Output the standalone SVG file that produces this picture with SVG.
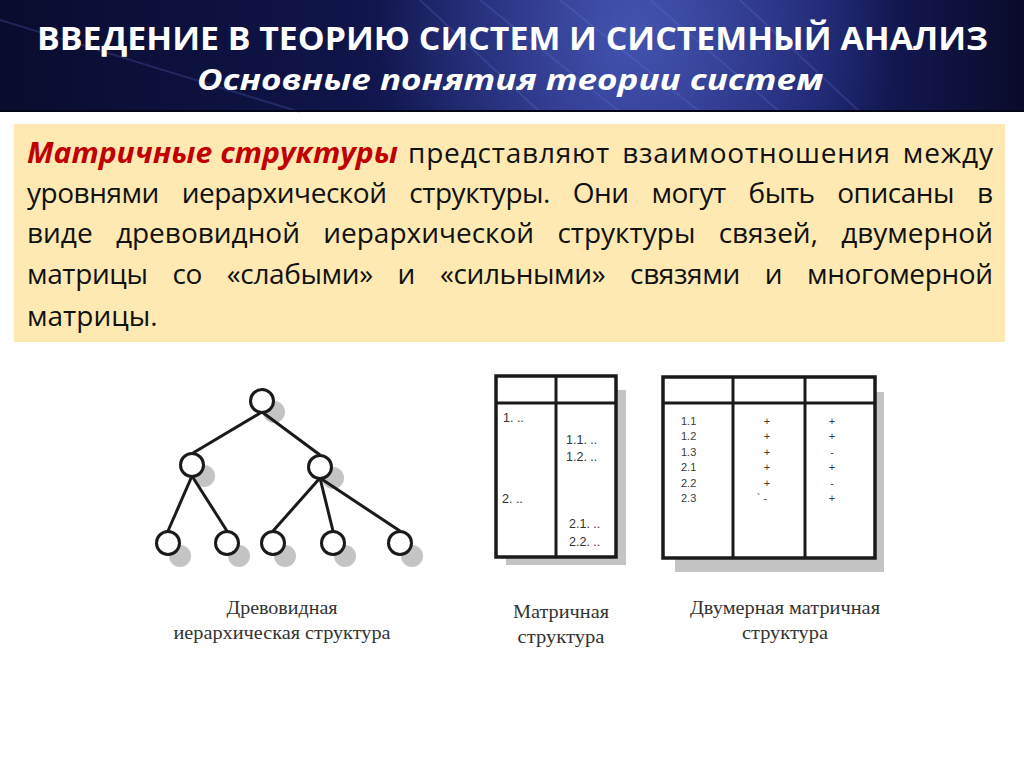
<svg xmlns="http://www.w3.org/2000/svg" width="1024" height="767" viewBox="0 0 1024 767">
<defs>
<linearGradient id="hdr" x1="0" y1="0" x2="1" y2="0">
<stop offset="0" stop-color="#0a0c2e"/>
<stop offset="0.35" stop-color="#10154a"/>
<stop offset="0.6" stop-color="#222c80"/>
<stop offset="0.8" stop-color="#171e66"/>
<stop offset="1" stop-color="#0a0b2a"/>
</linearGradient>
<radialGradient id="glow" cx="640" cy="30" r="260" gradientUnits="userSpaceOnUse">
<stop offset="0" stop-color="#5a6ed0" stop-opacity="0.6"/>
<stop offset="1" stop-color="#5a6ed0" stop-opacity="0"/>
</radialGradient>
<style>
.title{font-family:"Open Sans","Liberation Sans",sans-serif;font-weight:bold;fill:#ffffff}
.body{font-family:"Open Sans","Liberation Sans",sans-serif;font-size:28px;fill:#111111}
.red{font-family:"Open Sans","Liberation Sans",sans-serif;font-size:28px;font-weight:bold;font-style:italic;fill:#c00000}
.cap{font-family:"Liberation Serif","Times New Roman",serif;font-size:19px;fill:#333333}
.mt{font-family:"Liberation Sans",Arial,sans-serif;font-size:12.5px;fill:#333333}
.mt2{font-family:"Liberation Sans",Arial,sans-serif;font-size:11px;fill:#3a3a3a}
.edge{stroke:#1a1a1a;stroke-width:3;fill:none}
.node{fill:#ffffff;stroke:#1a1a1a;stroke-width:3}
.shadow{fill:#c4c4c4}
.frame{fill:#ffffff;stroke:#1a1a1a;stroke-width:3.5}
.div{stroke:#1a1a1a;stroke-width:3}
</style>
</defs>

<g id="header">
<rect x="0" y="0" width="1024" height="112" fill="url(#hdr)"/>
<rect x="0" y="0" width="1024" height="112" fill="url(#glow)"/>
<g stroke="#6a7fe0" stroke-opacity="0.22" stroke-width="2" fill="none">
<line x1="420" y1="0" x2="540" y2="112"/>
<line x1="480" y1="0" x2="620" y2="112"/>
<line x1="560" y1="0" x2="700" y2="112"/>
<line x1="650" y1="0" x2="780" y2="112"/>
<line x1="740" y1="0" x2="860" y2="112"/>
<line x1="0" y1="20" x2="300" y2="112"/>
</g>
<rect x="0" y="110" width="1024" height="2" fill="#050518"/>
<text class="title" x="37" y="50" font-size="33" textLength="951" lengthAdjust="spacingAndGlyphs">ВВЕДЕНИЕ В ТЕОРИЮ СИСТЕМ И СИСТЕМНЫЙ АНАЛИЗ</text>
<text class="title" x="197" y="90" font-size="29" font-style="italic" textLength="626" lengthAdjust="spacingAndGlyphs">Основные понятия теории систем</text>
</g>

<g id="textbox">
<rect x="14" y="124" width="991" height="218" fill="#fee9b2"/>
<text class="red" x="27" y="163" textLength="371" lengthAdjust="spacingAndGlyphs">Матричные структуры</text>
<text class="body" x="408" y="163" word-spacing="4" textLength="585" lengthAdjust="spacing">представляют взаимоотношения между</text>
<text class="body" x="27" y="203" word-spacing="16" textLength="966" lengthAdjust="spacing">уровнями иерархической структуры. Они могут быть описаны в</text>
<text class="body" x="27" y="243" word-spacing="16" textLength="966" lengthAdjust="spacing">виде древовидной иерархической структуры связей, двумерной</text>
<text class="body" x="27" y="284" word-spacing="18" textLength="966" lengthAdjust="spacing">матрицы со «слабыми» и «сильными» связями и многомерной</text>
<text class="body" x="27" y="326">матрицы.</text>
</g>

<g id="tree-shadows">
<circle class="shadow" cx="274" cy="412" r="11"/>
<circle class="shadow" cx="204" cy="476" r="11"/>
<circle class="shadow" cx="333" cy="478" r="11"/>
<circle class="shadow" cx="180" cy="556" r="11"/>
<circle class="shadow" cx="239" cy="556" r="11"/>
<circle class="shadow" cx="285" cy="556" r="11"/>
<circle class="shadow" cx="345" cy="556" r="11"/>
<circle class="shadow" cx="412" cy="556" r="11"/>
</g>

<g id="connectors">
<line class="edge" x1="262" y1="412" x2="193" y2="453"/>
<line class="edge" x1="262" y1="412" x2="320" y2="455"/>
<line class="edge" x1="192" y1="476" x2="168" y2="531"/>
<line class="edge" x1="192" y1="476" x2="227" y2="531"/>
<line class="edge" x1="320" y1="478" x2="273" y2="531"/>
<line class="edge" x1="320" y1="478" x2="333" y2="531"/>
<line class="edge" x1="320" y1="478" x2="400" y2="531"/>
</g>

<g id="node-root"><circle class="node" cx="262" cy="401" r="11.5"/></g>
<g id="node-l"><circle class="node" cx="192" cy="465" r="11.5"/></g>
<g id="node-r"><circle class="node" cx="320" cy="467" r="11.5"/></g>
<g id="node-l1"><circle class="node" cx="168" cy="543" r="11.5"/></g>
<g id="node-l2"><circle class="node" cx="227" cy="543" r="11.5"/></g>
<g id="node-r1"><circle class="node" cx="273" cy="543" r="11.5"/></g>
<g id="node-r2"><circle class="node" cx="333" cy="543" r="11.5"/></g>
<g id="node-r3"><circle class="node" cx="400" cy="543" r="11.5"/></g>

<g id="matrix">
<rect class="shadow" x="617" y="390" width="9" height="173"/>
<rect class="shadow" x="506" y="557" width="120" height="8"/>
<rect class="frame" x="496" y="376" width="120" height="181"/>
<line class="div" x1="556" y1="376" x2="556" y2="557"/>
<line class="div" x1="496" y1="403" x2="616" y2="403"/>
<text class="mt" x="503" y="422">1. ..</text>
<text class="mt" x="566" y="444">1.1. ..</text>
<text class="mt" x="566" y="461">1.2. ..</text>
<text class="mt" x="502" y="503">2. ..</text>
<text class="mt" x="569" y="528">2.1. ..</text>
<text class="mt" x="569" y="546">2.2. ..</text>
</g>

<g id="matrix2d">
<rect class="shadow" x="875" y="392" width="9" height="180"/>
<rect class="shadow" x="675" y="558" width="209" height="14"/>
<rect class="frame" x="663" y="377" width="212" height="181"/>
<line class="div" x1="733" y1="377" x2="733" y2="558"/>
<line class="div" x1="805" y1="377" x2="805" y2="558"/>
<line class="div" x1="663" y1="403" x2="875" y2="403"/>
<g class="mt2">
<text x="681" y="425">1.1</text>
<text x="681" y="440">1.2</text>
<text x="681" y="456">1.3</text>
<text x="681" y="471">2.1</text>
<text x="681" y="487">2.2</text>
<text x="681" y="502">2.3</text>
</g>
<g class="mt2" text-anchor="middle">
<text x="767" y="425">+</text>
<text x="767" y="440">+</text>
<text x="767" y="456">+</text>
<text x="767" y="471">+</text>
<text x="767" y="487">+</text>
<text x="762" y="502">` -</text>
<text x="832" y="425">+</text>
<text x="832" y="440">+</text>
<text x="832" y="456">-</text>
<text x="832" y="471">+</text>
<text x="832" y="487">-</text>
<text x="832" y="502">+</text>
</g>
</g>

<g id="captions" text-anchor="middle">
<text class="cap" x="282" y="614" textLength="111" lengthAdjust="spacingAndGlyphs">Древовидная</text>
<text class="cap" x="282" y="639" textLength="217" lengthAdjust="spacingAndGlyphs">иерархическая структура</text>
<text class="cap" x="561" y="618" textLength="96" lengthAdjust="spacingAndGlyphs">Матричная</text>
<text class="cap" x="561" y="643" textLength="87" lengthAdjust="spacingAndGlyphs">структура</text>
<text class="cap" x="785" y="614" textLength="190" lengthAdjust="spacingAndGlyphs">Двумерная матричная</text>
<text class="cap" x="785" y="639" textLength="86" lengthAdjust="spacingAndGlyphs">структура</text>
</g>
</svg>
